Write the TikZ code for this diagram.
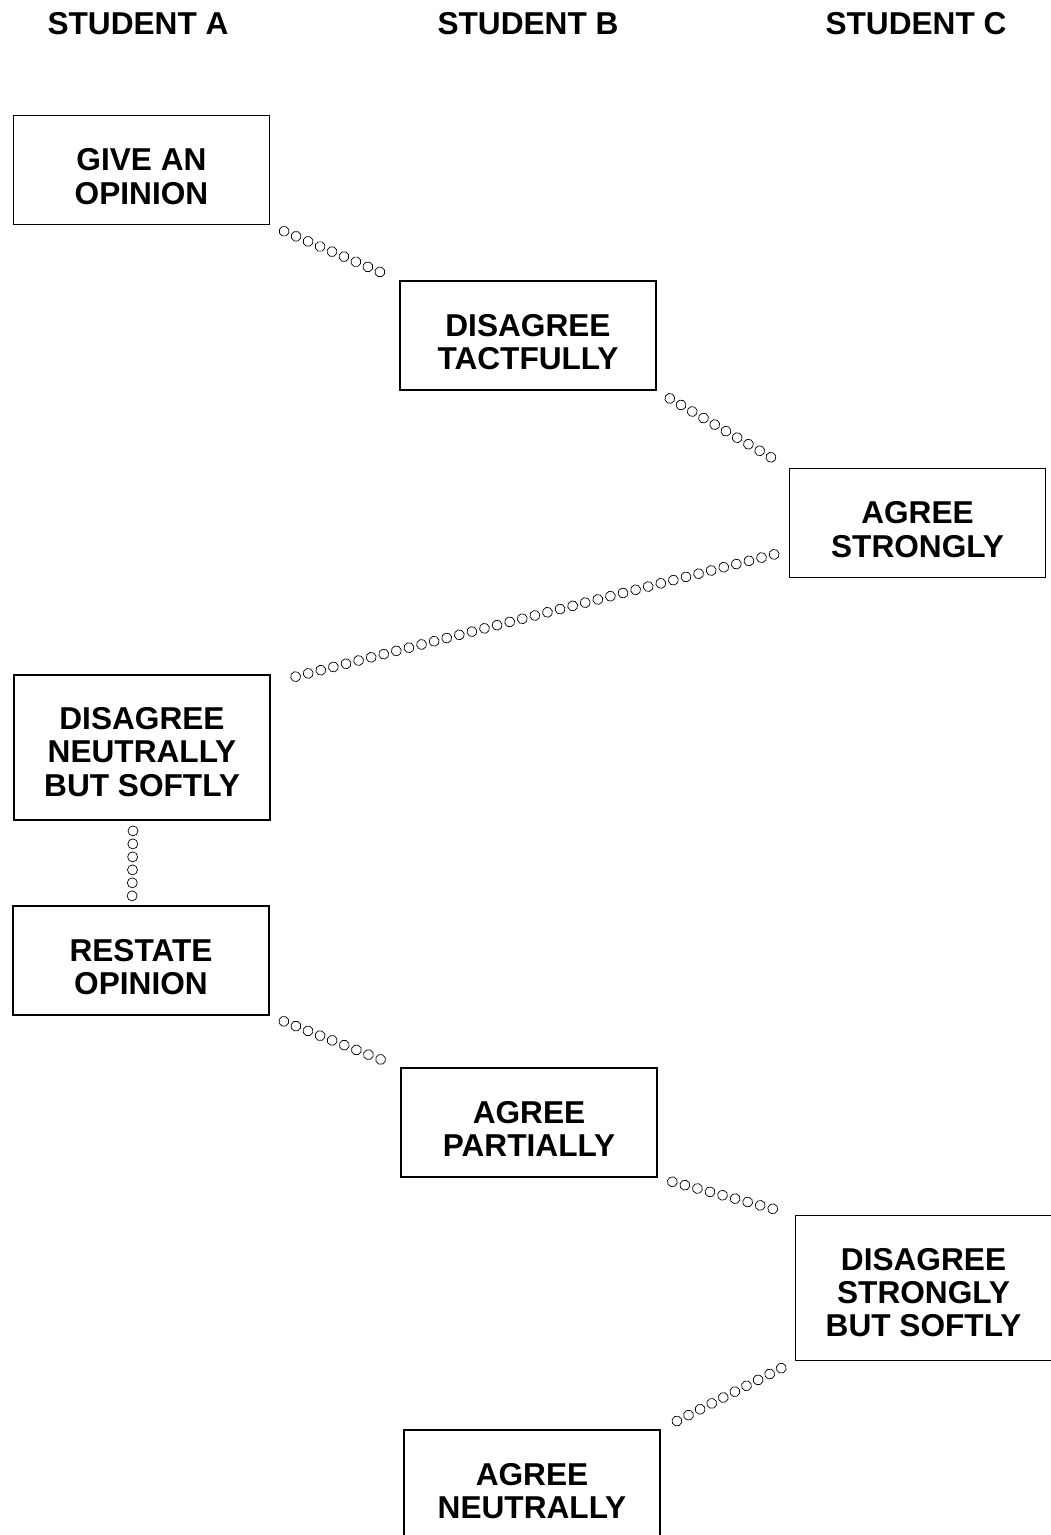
\documentclass[tikz,border=0pt]{standalone}
\usepackage{fontspec}
\setmainfont{Liberation Sans}
\usepackage{tikz}
\usetikzlibrary{calc}
\usetikzlibrary{decorations.markings}

\tikzset{
	studentBox/.style = {draw, line width = 1pt, minimum width = 5.12cm, minimum height = 2.18cm, inner sep = 0pt, text height = 1.37cm, align = center, font = \fontsize{18}{19}\selectfont\bfseries},
	tallBox/.style = {studentBox, minimum height = 2.9cm, text height = 1.96cm},
	studentHead/.style = {font = \fontsize{18}{19}\selectfont\bfseries},
	circleChain/.style = {gray!45, thin, decoration = {markings, mark = between positions 0 and 1 step 0.26cm with {\draw (0,0) circle (0.1cm);}}, decorate}
}

\begin{document}
\begin{tikzpicture}[x = 0.02cm, y = -0.02cm]

	\useasboundingbox (0,0) rectangle (1051,1535);

	% column headings
	\node [studentHead] (headA) at (138,24) {STUDENT A};
	\node [studentHead] (headB) at (528,24) {STUDENT B};
	\node [studentHead] (headC) at (916,24) {STUDENT C};

	% first exchange
	\node [studentBox] (giveOpinion) at (141.5,170) {GIVE AN\\OPINION};
	\node [studentBox] (disagreeTactfully) at (528,335.5) {DISAGREE\\TACTFULLY};
	\node [studentBox] (agreeStrongly) at (917.5,523) {AGREE\\STRONGLY};
	\node [tallBox] (disagreeNeutrally) at (142,747.5) {DISAGREE\\NEUTRALLY\\BUT SOFTLY};

	% second exchange
	\node [studentBox] (restateOpinion) at (141,960.5) {RESTATE\\OPINION};
	\node [studentBox] (agreePartially) at (529,1122.5) {AGREE\\PARTIALLY};
	\node [tallBox] (disagreeStrongly) at (923.5,1288) {DISAGREE\\STRONGLY\\BUT SOFTLY};
	\node [studentBox] (agreeNeutrally) at (532,1484.5) {AGREE\\NEUTRALLY};

	% chains of small circles between the turns
	\def \gap {0.3cm};
	\draw [circleChain] ($(giveOpinion.south east)!\gap!(disagreeTactfully.north west)$) -- ($(disagreeTactfully.north west)!\gap!(giveOpinion.south east)$);
	\draw [circleChain] ($(disagreeTactfully.south east)!\gap!(agreeStrongly.north west)$) -- ($(agreeStrongly.north west)!\gap!(disagreeTactfully.south east)$);
	\coordinate (strongOut) at ($(agreeStrongly.west)!0.5!(agreeStrongly.south west)$);
	\coordinate (neutralIn) at ($(disagreeNeutrally.north east)!0.12!(disagreeNeutrally.east)$);
	\draw [circleChain] ($(strongOut)!\gap!(neutralIn)$) -- ($(neutralIn)!\gap!(strongOut)$);
	\draw [circleChain] ([xshift = -0.18cm]disagreeNeutrally.south) ++(0,10) -- ([xshift = -0.18cm]restateOpinion.north);
	\draw [circleChain] ($(restateOpinion.south east)!\gap!(agreePartially.north west)$) -- ($(agreePartially.north west)!\gap!(restateOpinion.south east)$);
	\draw [circleChain] ($(agreePartially.south east)!\gap!(disagreeStrongly.north west)$) -- ($(disagreeStrongly.north west)!\gap!(agreePartially.south east)$);
	\draw [circleChain] ($(disagreeStrongly.south west)!\gap!(agreeNeutrally.north east)$) -- ($(agreeNeutrally.north east)!\gap!(disagreeStrongly.south west)$);

\end{tikzpicture}
\end{document}
